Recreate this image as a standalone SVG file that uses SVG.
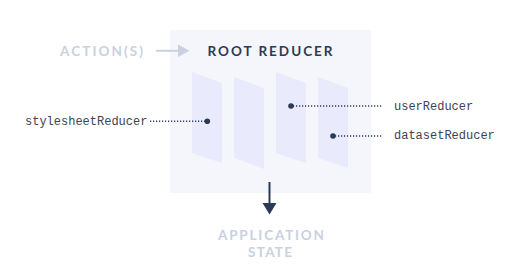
<svg xmlns="http://www.w3.org/2000/svg" width="508" height="272" viewBox="0 0 508 272">
<defs>
<style>
.title{font-family:Lato,"Open Sans","Liberation Sans",sans-serif;font-weight:700;font-size:13.5px}
.dark{fill:#2b3a55}
.light{fill:#c8d1e1}
.mono{font-family:"Liberation Mono","DejaVu Sans Mono",monospace;font-size:12px;fill:#3b4354}
.panel{fill:#e9eafb}
.dotline{stroke:#2b3a55;stroke-width:1.4;stroke-dasharray:1.2 1.8;fill:none}
.dot{fill:#2b3a55}
</style>
</defs>
<rect width="508" height="272" fill="#ffffff"/>
<g id="root-reducer">
<rect x="170" y="30" width="201" height="163" fill="#f5f6fb"/>
<text class="title dark" x="207.5" y="55.8" textLength="125" lengthAdjust="spacing">ROOT REDUCER</text>
<polygon class="panel" points="192,72 222,83 222,163 192,153"/>
<polygon class="panel" points="234,77 264,88 264,169 234,158"/>
<polygon class="panel" points="276,72 306,83 306,163 276,153"/>
<polygon class="panel" points="318,77 348,88 348,168 318,158"/>
</g>
<g id="actions">
<text class="title light" x="60" y="55.8" textLength="83" lengthAdjust="spacing">ACTION(S)</text>
</g>
<g id="application-state">
<text class="title light" x="218" y="239.5" textLength="106" lengthAdjust="spacing">APPLICATION</text>
<text class="title light" x="248" y="256.8" textLength="44" lengthAdjust="spacing">STATE</text>
</g>
<g id="stylesheetReducer">
<text class="mono" x="25" y="125">stylesheetReducer</text>
</g>
<g id="userReducer">
<text class="mono" x="394" y="109.8">userReducer</text>
</g>
<g id="datasetReducer">
<text class="mono" x="394" y="139.3">datasetReducer</text>
</g>
<g id="connectors">
<line x1="156" y1="50.8" x2="180" y2="50.8" stroke="#c8d1e1" stroke-width="2"/>
<polygon points="178,44.5 189.5,50.8 178,57" fill="#c8d1e1"/>
<line x1="269.5" y1="182" x2="269.5" y2="204" stroke="#2b3a55" stroke-width="2"/>
<polygon points="262.5,203 276.5,203 269.5,214.5" fill="#2b3a55"/>
<line class="dotline" x1="150" y1="121.3" x2="206" y2="121.3"/>
<circle class="dot" cx="207.3" cy="121.3" r="2.8"/>
<line class="dotline" x1="293" y1="106" x2="382" y2="106"/>
<circle class="dot" cx="291" cy="106" r="2.8"/>
<line class="dotline" x1="335" y1="136" x2="382" y2="136"/>
<circle class="dot" cx="333" cy="136" r="2.8"/>
</g>
</svg>
